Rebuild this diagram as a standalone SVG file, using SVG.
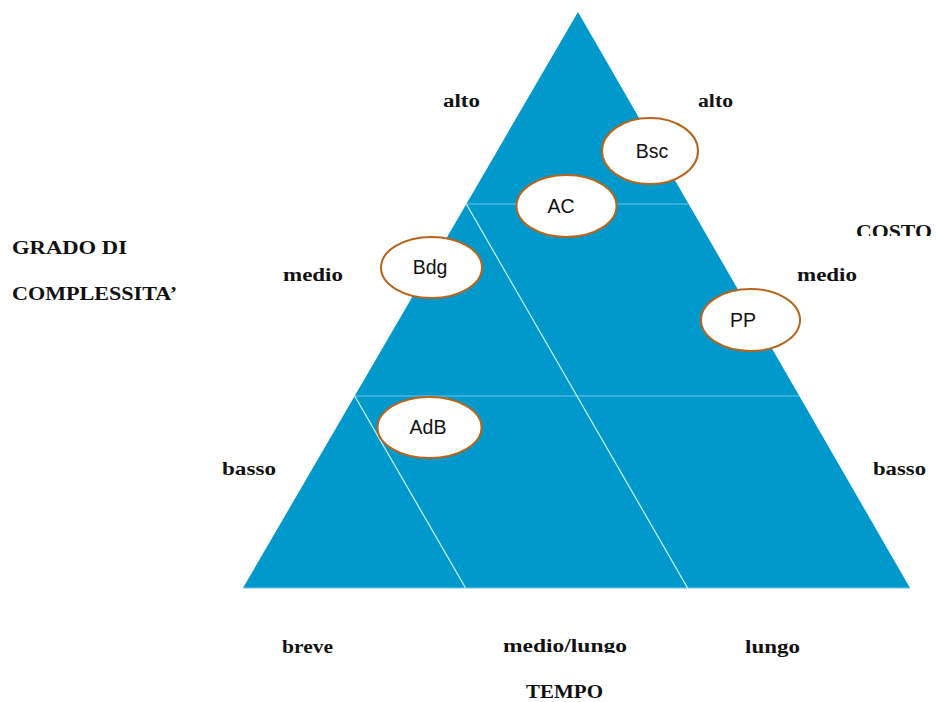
<svg xmlns="http://www.w3.org/2000/svg" width="936" height="702" viewBox="0 0 936 702">
  <style>
    .lbl { font-family: "Liberation Serif", "DejaVu Serif", serif; font-weight: bold; font-size: 18px; fill: #111; }
    .node ellipse { fill: #ffffff; stroke: #b8651b; stroke-width: 2; }
    .node text { font-family: "Liberation Sans", Arial, sans-serif; font-size: 19.5px; fill: #111; text-anchor: middle; }
    .hline { stroke: #6cc6e8; stroke-width: 1; }
    .dline { stroke: #d6f2fb; stroke-width: 1.2; }
  </style>
  <defs>
    <clipPath id="clipCosto"><rect x="840" y="200" width="96" height="36"/></clipPath>
    <clipPath id="clipMid"><rect x="490" y="620" width="150" height="33"/></clipPath>
  </defs>
  <rect width="936" height="702" fill="#ffffff"/>

  <!-- triangle with its band divisions -->
  <g id="triangle">
    <polygon points="578,12 243,588 910,588" fill="#0199cb"/>
    <line class="hline" x1="243" y1="588" x2="910" y2="588"/>
    <line class="hline" x1="466.3" y1="204" x2="688.7" y2="204"/>
    <line class="hline" x1="354.7" y1="396" x2="799.3" y2="396"/>
    <line class="dline" x1="466.3" y1="204" x2="687.6" y2="588"/>
    <line class="dline" x1="354.7" y1="396" x2="465.6" y2="588"/>
  </g>

  <!-- axis labels -->
  <g id="labels">
    <text class="lbl" x="443" y="107" textLength="37" lengthAdjust="spacingAndGlyphs">alto</text>
    <text class="lbl" x="698" y="107" textLength="35" lengthAdjust="spacingAndGlyphs">alto</text>
    <text class="lbl" x="12" y="254" textLength="115" lengthAdjust="spacingAndGlyphs">GRADO DI</text>
    <text class="lbl" x="12" y="300" textLength="165" lengthAdjust="spacingAndGlyphs">COMPLESSITA’</text>
    <text class="lbl" x="283" y="281" textLength="60" lengthAdjust="spacingAndGlyphs">medio</text>
    <text class="lbl" x="797" y="281" textLength="60" lengthAdjust="spacingAndGlyphs">medio</text>
    <g clip-path="url(#clipCosto)">
      <text class="lbl" x="856" y="238" textLength="76" lengthAdjust="spacingAndGlyphs">COSTO</text>
    </g>
    <text class="lbl" x="222" y="475" textLength="54" lengthAdjust="spacingAndGlyphs">basso</text>
    <text class="lbl" x="873" y="475" textLength="53" lengthAdjust="spacingAndGlyphs">basso</text>
    <text class="lbl" x="282" y="653" textLength="51" lengthAdjust="spacingAndGlyphs">breve</text>
    <g clip-path="url(#clipMid)">
      <text class="lbl" x="503" y="652" textLength="124" lengthAdjust="spacingAndGlyphs">medio/lungo</text>
    </g>
    <text class="lbl" x="745" y="653" textLength="55" lengthAdjust="spacingAndGlyphs">lungo</text>
    <text class="lbl" x="526" y="698" textLength="77" lengthAdjust="spacingAndGlyphs">TEMPO</text>
  </g>

  <!-- positioned items -->
  <g id="node-bsc" class="node">
    <ellipse cx="650" cy="151" rx="48" ry="33"/>
    <text x="652" y="158">Bsc</text>
  </g>
  <g id="node-ac" class="node">
    <ellipse cx="566.5" cy="206" rx="50" ry="31"/>
    <text x="561" y="213">AC</text>
  </g>
  <g id="node-bdg" class="node">
    <ellipse cx="431.5" cy="267.5" rx="50.5" ry="30.5"/>
    <text x="430" y="274">Bdg</text>
  </g>
  <g id="node-pp" class="node">
    <ellipse cx="750.5" cy="320" rx="49.5" ry="31"/>
    <text x="743" y="327">PP</text>
  </g>
  <g id="node-adb" class="node">
    <ellipse cx="429.5" cy="427.5" rx="52" ry="30.5"/>
    <text x="428" y="434">AdB</text>
  </g>
</svg>
